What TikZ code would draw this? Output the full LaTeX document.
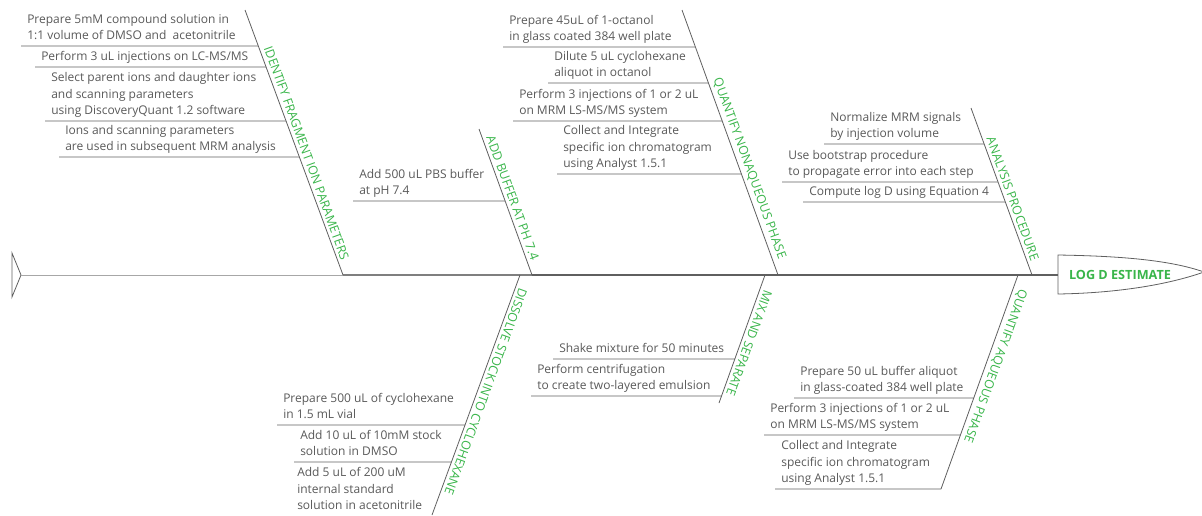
\documentclass[tikz,border=0pt]{standalone}
\usepackage{fontspec}
\setmainfont{Open Sans}
\definecolor{stepgray}{RGB}{89,89,89}
\definecolor{bonegray}{RGB}{95,95,95}
\definecolor{labgreen}{RGB}{57,181,74}
\tikzset{
  bone/.style={color=bonegray, line width=0.6pt},
  twig/.style={color=bonegray, line width=0.6pt},
  stepnote/.style={anchor=south west, align=left, inner xsep=4.5pt, inner ysep=0.8pt, text=stepgray, font=\fontsize{9}{12.4}\selectfont, execute at end node=\strut},
  bonelabel/.style={anchor=south, inner sep=2.5pt, text=labgreen, font=\fontsize{9.3}{11}\selectfont},
}
\begin{document}
\begin{tikzpicture}[x=0.75pt,y=0.75pt,yscale=-1,xscale=1]
        \useasboundingbox (0,0) rectangle (1202,515);

        %Coordinates: bone ends
        \coordinate (b1top) at (245,10);   \coordinate (b1bot) at (343,275);
        \coordinate (b2top) at (479,129);  \coordinate (b2bot) at (532,275);
        \coordinate (b3top) at (682,10);   \coordinate (b3bot) at (778,275);
        \coordinate (b4top) at (971,108);  \coordinate (b4bot) at (1032,275);
        \coordinate (b5top) at (520,275);  \coordinate (b5bot) at (432,515);
        \coordinate (b6top) at (765,275);  \coordinate (b6bot) at (719,403);
        \coordinate (b7top) at (1018,275); \coordinate (b7bot) at (941,489);
        \coordinate (tailtip) at (21,275);

        %Shape: Tail
        \draw [bone] (12,253) -- (tailtip) -- (12,297) -- cycle ;

        % Text Node: head
        \node [text=labgreen, font=\fontsize{9.5}{11}\selectfont\bfseries, inner sep=0.75pt] (head) at (1120,275) {LOG D ESTIMATE};
        %Shape: Head
        \draw [bone] (1058,255) .. controls (1120,256) and (1170,260) .. (1204,272) .. controls (1170,284) and (1120,293) .. (1058,294) -- cycle ;
        \coordinate (headwest) at (1058,275);

        %Straight Lines: spine
        \draw [color=bonegray!55, line width=0.5pt] (tailtip) -- (b1bot) ;
        \draw [color=bonegray!80, line width=0.8pt] (b1bot) -- (b2bot) ;
        \draw [color=bonegray, line width=1.1pt] (b2bot) -- (b3bot) ;
        \draw [color=bonegray, line width=1.4pt] (b3bot) -- (b4bot) ;
        \draw [color=bonegray, line width=1.7pt] (b4bot) -- (headwest) ;

        %Straight Lines: bones
        \draw [bone] (b1top) -- (b1bot) ;
        \draw [bone] (b2top) -- (b2bot) ;
        \draw [bone] (b3top) -- (b3bot) ;
        \draw [bone] (b4top) -- (b4bot) ;
        \draw [bone] (b5top) -- (b5bot) ;
        \draw [bone] (b6top) -- (b6bot) ;
        \draw [bone] (b7top) -- (b7bot) ;

        % Text Node: bone labels
        \path (b1top) -- (b1bot) node [bonelabel, pos=0.55, rotate=-70] (lab1) {IDENTIFY FRAGMENT ION PARAMETERS};
        \path (b2top) -- (b2bot) node [bonelabel, pos=0.49, rotate=-70] (lab2) {ADD BUFFER AT PH 7.4};
        \path (b3top) -- (b3bot) node [bonelabel, pos=0.61, rotate=-70] (lab3) {QUANTIFY NONAQUEOUS PHASE};
        \path (b4top) -- (b4bot) node [bonelabel, pos=0.56, rotate=-70] (lab4) {ANALYSIS PROCEDURE};
        \path (b5top) -- (b5bot) node [bonelabel, pos=0.475, rotate=-110] (lab5) {DISSOLVE STOCK INTO CYCLOHEXANE};
        \path (b6top) -- (b6bot) node [bonelabel, pos=0.51, rotate=-110] (lab6) {MIX AND SEPARATE};
        \path (b7top) -- (b7bot) node [bonelabel, pos=0.41, rotate=-110] (lab7) {QUANTIFY AQUEOUS PHASE};

        % Text Node
        \node [stepnote] (n1a) at (21,46) {Prepare 5mM compound solution in\\1:1 volume of DMSO and\ \ acetonitrile};
        % Text Node
        \node [stepnote] (n1b) at (35,67) {Perform 3 uL injections on LC-MS/MS};
        % Text Node
        \node [stepnote] (n1c) at (45,121) {Select parent ions and daughter ions\\and scanning parameters\\using DiscoveryQuant 1.2 software};
        % Text Node
        \node [stepnote] (n1d) at (59,157) {Ions and scanning parameters\\are used in subsequent MRM analysis};
        % Text Node
        \node [stepnote] (n2a) at (353,201) {Add 500 uL PBS buffer\\at pH 7.4};
        % Text Node
        \node [stepnote] (n3a) at (503,47) {Prepare 45uL of 1-octanol\\in glass coated 384 well plate};
        % Text Node
        \node [stepnote] (n3b) at (548,83) {Dilute 5 uL cyclohexane\\aliquot in octanol};
        % Text Node
        \node [stepnote] (n3c) at (513,121) {Perform 3 injections of 1 or 2 uL\\on MRM LS-MS/MS system};
        % Text Node
        \node [stepnote] (n3d) at (557,174) {Collect and Integrate\\specific ion chromatogram\\using Analyst 1.5.1};
        % Text Node
        \node [stepnote] (n4a) at (824,144) {Normalize MRM signals\\by injection volume};
        % Text Node
        \node [stepnote] (n4b) at (782,182) {Use bootstrap procedure\\to propagate error into each step};
        % Text Node
        \node [stepnote] (n4c) at (803,202) {Compute log D using Equation 4};
        % Text Node
        \node [stepnote] (n5a) at (277,425) {Prepare 500 uL of cyclohexane\\in 1.5 mL vial};
        % Text Node
        \node [stepnote] (n5b) at (294,462) {Add 10 uL of 10mM stock\\solution in DMSO};
        % Text Node
        \node [stepnote] (n5c) at (291,516) {Add 5 uL of 200 uM\\internal standard\\solution in acetonitrile};
        % Text Node
        \node [stepnote] (n6a) at (553,359) {Shake mixture for 50 minutes};
        % Text Node
        \node [stepnote] (n6b) at (531,396) {Perform centrifugation\\to create two-layered emulsion};
        % Text Node
        \node [stepnote] (n7a) at (794,398) {Prepare 50 uL buffer aliquot\\in glass-coated 384 well plate};
        % Text Node
        \node [stepnote] (n7b) at (764,435) {Perform 3 injections of 1 or 2 uL\\on MRM LS-MS/MS system};
        % Text Node
        \node [stepnote] (n7c) at (775,489) {Collect and Integrate\\specific ion chromatogram\\using Analyst 1.5.1};

        %Straight Lines: twigs to the bones
        \draw [twig] (n1a.south west) -- (intersection cs: first line={(n1a.south west)--(n1a.south east)}, second line={(b1top)--(b1bot)}) ;
        \draw [twig] (n1b.south west) -- (intersection cs: first line={(n1b.south west)--(n1b.south east)}, second line={(b1top)--(b1bot)}) ;
        \draw [twig] (n1c.south west) -- (intersection cs: first line={(n1c.south west)--(n1c.south east)}, second line={(b1top)--(b1bot)}) ;
        \draw [twig] (n1d.south west) -- (intersection cs: first line={(n1d.south west)--(n1d.south east)}, second line={(b1top)--(b1bot)}) ;
        \draw [twig] (n2a.south west) -- (intersection cs: first line={(n2a.south west)--(n2a.south east)}, second line={(b2top)--(b2bot)}) ;
        \draw [twig] (n3a.south west) -- (intersection cs: first line={(n3a.south west)--(n3a.south east)}, second line={(b3top)--(b3bot)}) ;
        \draw [twig] (n3b.south west) -- (intersection cs: first line={(n3b.south west)--(n3b.south east)}, second line={(b3top)--(b3bot)}) ;
        \draw [twig] (n3c.south west) -- (intersection cs: first line={(n3c.south west)--(n3c.south east)}, second line={(b3top)--(b3bot)}) ;
        \draw [twig] (n3d.south west) -- (intersection cs: first line={(n3d.south west)--(n3d.south east)}, second line={(b3top)--(b3bot)}) ;
        \draw [twig] (n4a.south west) -- (intersection cs: first line={(n4a.south west)--(n4a.south east)}, second line={(b4top)--(b4bot)}) ;
        \draw [twig] (n4b.south west) -- (intersection cs: first line={(n4b.south west)--(n4b.south east)}, second line={(b4top)--(b4bot)}) ;
        \draw [twig] (n4c.south west) -- (intersection cs: first line={(n4c.south west)--(n4c.south east)}, second line={(b4top)--(b4bot)}) ;
        \draw [twig] (n5a.south west) -- (intersection cs: first line={(n5a.south west)--(n5a.south east)}, second line={(b5top)--(b5bot)}) ;
        \draw [twig] (n5b.south west) -- (intersection cs: first line={(n5b.south west)--(n5b.south east)}, second line={(b5top)--(b5bot)}) ;
        \draw [twig] (n6a.south west) -- (intersection cs: first line={(n6a.south west)--(n6a.south east)}, second line={(b6top)--(b6bot)}) ;
        \draw [twig] (n6b.south west) -- (intersection cs: first line={(n6b.south west)--(n6b.south east)}, second line={(b6top)--(b6bot)}) ;
        \draw [twig] (n7a.south west) -- (intersection cs: first line={(n7a.south west)--(n7a.south east)}, second line={(b7top)--(b7bot)}) ;
        \draw [twig] (n7b.south west) -- (intersection cs: first line={(n7b.south west)--(n7b.south east)}, second line={(b7top)--(b7bot)}) ;
        \draw [twig] (n7c.south west) -- (intersection cs: first line={(n7c.south west)--(n7c.south east)}, second line={(b7top)--(b7bot)}) ;

\end{tikzpicture}
\end{document}
